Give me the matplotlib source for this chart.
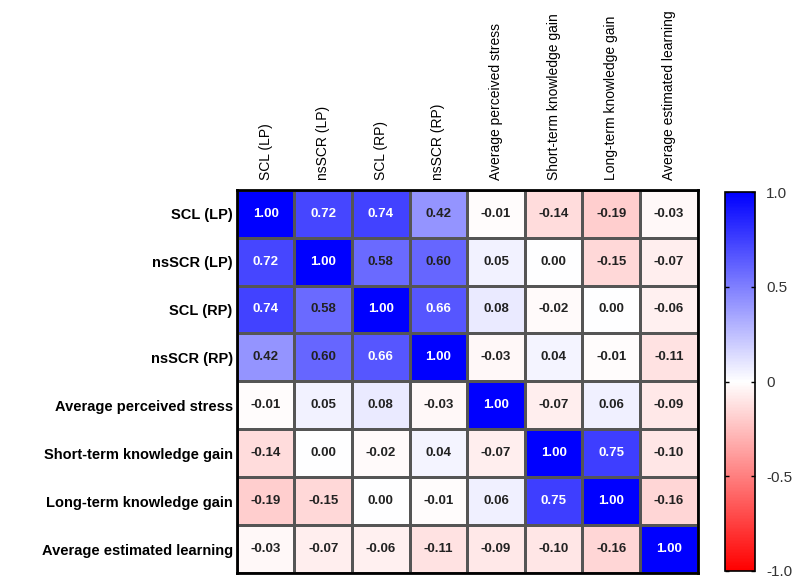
import numpy as np
import matplotlib
matplotlib.use('Agg')
import matplotlib.pyplot as plt

# Variables y matriz de correlación
etiquetas = ['SCL (LP)', 'nsSCR (LP)', 'SCL (RP)', 'nsSCR (RP)',
             'Average perceived stress', 'Short-term knowledge gain',
             'Long-term knowledge gain', 'Average estimated learning']

fila_scl_lp = [1.00, 0.72, 0.74, 0.42, -0.01, -0.14, -0.19, -0.03]
fila_nsscr_lp = [0.72, 1.00, 0.58, 0.60, 0.05, 0.00, -0.15, -0.07]
fila_scl_rp = [0.74, 0.58, 1.00, 0.66, 0.08, -0.02, 0.00, -0.06]
fila_nsscr_rp = [0.42, 0.60, 0.66, 1.00, -0.03, 0.04, -0.01, -0.11]
fila_estres = [-0.01, 0.05, 0.08, -0.03, 1.00, -0.07, 0.06, -0.09]
fila_corto = [-0.14, 0.00, -0.02, 0.04, -0.07, 1.00, 0.75, -0.10]
fila_largo = [-0.19, -0.15, 0.00, -0.01, 0.06, 0.75, 1.00, -0.16]
fila_aprendizaje = [-0.03, -0.07, -0.06, -0.11, -0.09, -0.10, -0.16, 1.00]

ticks_barra = [-1.0, -0.5, 0, 0.5, 1.0]
etiquetas_barra = ['-1.0', '-0.5', '0', '0.5', '1.0']

matriz = np.array([fila_scl_lp, fila_nsscr_lp, fila_scl_rp, fila_nsscr_rp,
                   fila_estres, fila_corto, fila_largo, fila_aprendizaje])

plt.rcParams['font.family'] = ['Liberation Sans', 'DejaVu Sans']

fig = plt.figure(figsize=(8, 5.79), dpi=100)
ax = fig.add_axes([0.296, 0.0104, 0.576, 0.662])
cax = fig.add_axes([0.906, 0.014, 0.0375, 0.654])

n = len(etiquetas)
mapa = ax.pcolormesh(np.arange(n + 1), np.arange(n + 1), matriz, cmap='bwr_r',
                     vmin=-1, vmax=1, edgecolor='#555555', linewidth=0.8)
ax.set_xlim(0, n)
ax.set_ylim(n, 0)

for i in range(n):
    for j in range(n):
        v = matriz[i, j]
        color = 'white' if v > 0.62 else '#222222'
        ax.text(j + 0.5, i + 0.5, f'{v:.2f}', ha='center', va='center',
                fontsize=9.5, fontweight='bold', color=color)

ax.set_xticks(np.arange(n) + 0.5)
ax.set_xticklabels(etiquetas, rotation=90, fontsize=10,
                   family=['Liberation Sans Narrow', 'Liberation Sans'])
ax.xaxis.tick_top()
ax.set_yticks(np.arange(n) + 0.5)
ax.set_yticklabels(etiquetas, fontsize=10.5, fontweight='bold')
ax.tick_params(axis='y', length=0, pad=3)
ax.tick_params(axis='x', length=0, pad=7)
for lado in ax.spines.values():
    lado.set_linewidth(2)

cb = fig.colorbar(mapa, cax=cax, ticks=ticks_barra)
cb.ax.set_yticklabels(etiquetas_barra, fontsize=11, color='#333333')
cb.ax.tick_params(direction='in', length=3, width=1, left=True, right=True, pad=8)
cb.outline.set_linewidth(1.2)

fig.savefig('out.png', dpi=100)
